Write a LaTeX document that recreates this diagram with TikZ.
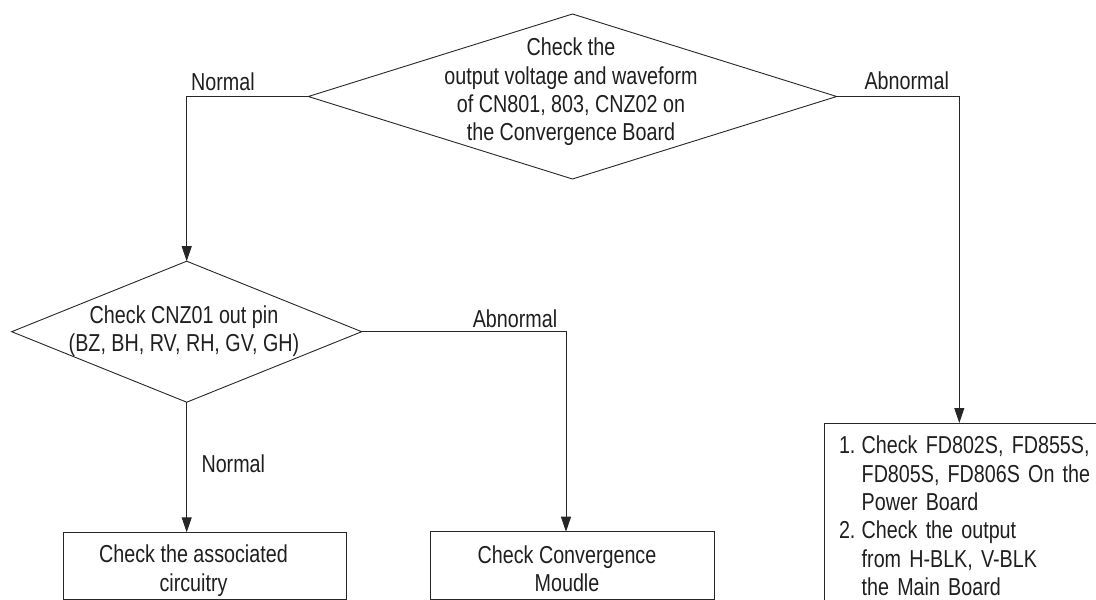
\documentclass[tikz,border=0pt]{standalone}
\usepackage{fontspec}
\setmainfont{Liberation Sans}[FakeStretch=0.805]
\usetikzlibrary{shapes.geometric,arrows.meta}
\begin{document}
\begin{tikzpicture}[x=1pt,y=-1pt,
  font=\fontsize{24.5}{28.4}\selectfont,
  line width=0.9pt,
  linecol/.style={draw=black!85},
  dia/.style={linecol, shape=diamond, inner sep=0pt, outer sep=0pt},
  boxnode/.style={linecol, rectangle, inner sep=0pt, outer sep=0pt},
  arr/.style={linecol, -{Triangle[length=15pt,width=10pt]}},
  lbl/.style={inner sep=0pt, text=black!88}]
\clip (0,0) rectangle (1096,600);
% decisions
\node[dia, minimum width=528.4pt, minimum height=165pt] (d1) at (572.5,96.5) {};
\node[lbl, align=center] (t1) at (571,92) {Check the\\output voltage and waveform\\of CN801, 803, CNZ02 on\\the Convergence Board};
\node[dia, minimum width=350pt, minimum height=141pt] (d2) at (186.7,331.7) {};
\node[lbl, align=center] (t2) at (184,331) {Check CNZ01 out pin\\(BZ, BH, RV, RH, GV, GH)};
% boxes
\node[boxnode, minimum width=283.4pt, minimum height=67pt] (c1) at (205,565.8) {};
\node[lbl, align=center] (t3) at (193.5,570.5) {Check the associated\\circuitry};
\node[boxnode, minimum width=283.6pt, minimum height=67.3pt] (c2) at (572.5,565.35) {};
\node[lbl, align=center] (t4) at (567,568.5) {Check Convergence\\Moudle};
\node[boxnode, text=black!88, anchor=north west, inner xsep=15pt, inner ysep=12.9pt, text width=260pt, align=left] (c3) at (824,423)
  {\makebox[22.7pt][l]{1.}Check FD802S, FD855S,\\
   \hspace*{22.7pt}FD805S, FD806S On the\\
   \hspace*{22.7pt}Power Board\\
   \makebox[22.7pt][l]{2.}Check the output\\
   \hspace*{22.7pt}from H-BLK, V-BLK\\
   \hspace*{22.7pt}the Main Board};
% connectors
\draw[arr] (d1.west) -| (d2.north);
\draw[arr] (d1.east) -| ([xshift=135.3pt]c3.north west);
\draw[arr] (d2.east) -| ([xshift=135.3pt]c2.north west);
\draw[arr] (d2.south) -- (d2.south |- c1.north);
% labels
\node[lbl] (n1) at (223,81.7) {Normal};
\node[lbl] (a1) at (906.7,80.7) {Abnormal};
\node[lbl] (a2) at (515,318.3) {Abnormal};
\node[lbl] (n2) at (233.3,463.3) {Normal};
\end{tikzpicture}
\end{document}
